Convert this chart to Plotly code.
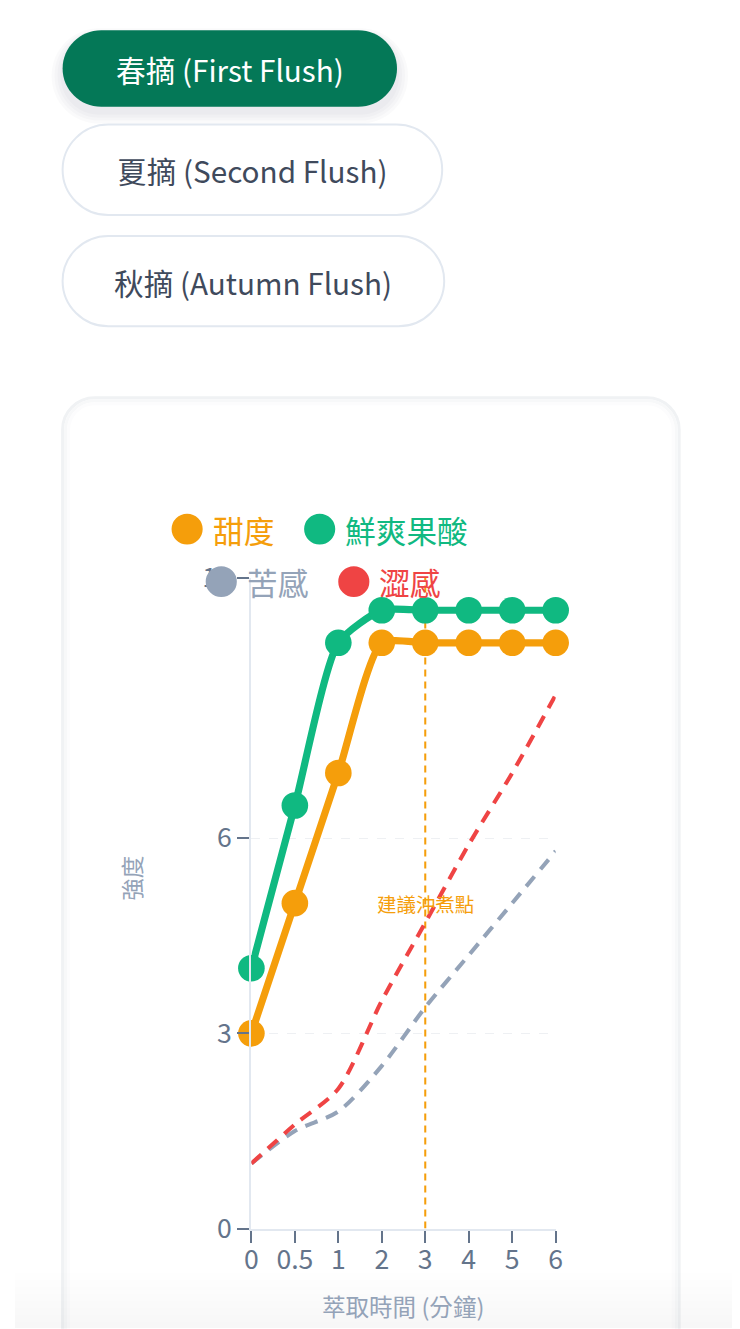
import plotly.graph_objects as go

# the page photo comes out slightly scaled and shifted; positions below are in photo pixels
S, AX, AY = 0.977, 15.6, 22.8
FW, FH = 741, 1337
FONT = "Noto Sans CJK TC"

# data
minutes = ["0", "0.5", "1", "2", "3", "4", "5", "6"]
sweetness = [3.0, 5.0, 7.0, 9.0, 9.0, 9.0, 9.0, 9.0]
acidity = [4.0, 6.5, 9.0, 9.5, 9.5, 9.5, 9.5, 9.5]
bitterness = [1.0, 1.5, 1.8, 2.5, 3.4, 4.2, 5.0, 5.8]
astringency = [1.0, 1.6, 2.15, 3.5, 4.7, 5.9, 7.0, 8.2]
y_ticks = [0, 3, 6, 10]
brew_point = "3"
brew_label = "建議沖煮點"
brew_label_y = 5
series_names = ["甜度", "鮮爽果酸", "苦感", "澀感"]
flush_buttons = ["春摘 (First Flush)", "夏摘 (Second Flush)", "秋摘 (Autumn Flush)"]

ORANGE, GREEN, GRAY, RED = "#f59e0b", "#10b981", "#94a3b8", "#ef4444"
brew_idx = minutes.index(brew_point)


def px(x):
    return (x - AX) / S / FW


def py(y):
    return 1 - (y - AY) / S / FH


def sz(v):
    return v / S


def rrect(x0, y0, x1, y1, r):
    k = 0.5523 * r
    pts = [
        f"M{px(x0 + r)},{py(y0)}", f"L{px(x1 - r)},{py(y0)}",
        f"C{px(x1 - r + k)},{py(y0)} {px(x1)},{py(y0 + r - k)} {px(x1)},{py(y0 + r)}",
        f"L{px(x1)},{py(y1 - r)}",
        f"C{px(x1)},{py(y1 - r + k)} {px(x1 - r + k)},{py(y1)} {px(x1 - r)},{py(y1)}",
        f"L{px(x0 + r)},{py(y1)}",
        f"C{px(x0 + r - k)},{py(y1)} {px(x0)},{py(y1 - r + k)} {px(x0)},{py(y1 - r)}",
        f"L{px(x0)},{py(y0 + r)}",
        f"C{px(x0)},{py(y0 + r - k)} {px(x0 + r - k)},{py(y0)} {px(x0 + r)},{py(y0)}", "Z",
    ]
    return " ".join(pts)


fig = go.Figure()

fig.add_trace(go.Scatter(x=minutes, y=sweetness, name=series_names[0], mode="lines+markers",
                         line=dict(color=ORANGE, width=sz(7), shape="spline", smoothing=0.6),
                         marker=dict(size=sz(26), color=ORANGE), cliponaxis=False))
fig.add_trace(go.Scatter(x=minutes, y=acidity, name=series_names[1], mode="lines+markers",
                         line=dict(color=GREEN, width=sz(7), shape="spline", smoothing=0.6),
                         marker=dict(size=sz(26), color=GREEN), cliponaxis=False))
fig.add_trace(go.Scatter(x=minutes, y=bitterness, name=series_names[2], mode="lines",
                         line=dict(color=GRAY, width=sz(4), dash="13px,9px", shape="spline", smoothing=0.8)))
fig.add_trace(go.Scatter(x=minutes, y=astringency, name=series_names[3], mode="lines",
                         line=dict(color=RED, width=sz(4), dash="13px,9px", shape="spline", smoothing=0.8)))

shapes = []
# card with soft edge
shapes.append(dict(type="path", path=rrect(63, 393, 677, 1400, 32), xref="paper", yref="paper",
                   fillcolor="white", line=dict(color="#f0f2f4", width=3), layer="below"))
shapes.append(dict(type="path", path=rrect(66, 396, 674, 1400, 29), xref="paper", yref="paper",
                   fillcolor="rgba(0,0,0,0)", line=dict(color="#f7f8f9", width=3), layer="below"))
shapes.append(dict(type="path", path=rrect(69, 399, 671, 1400, 26), xref="paper", yref="paper",
                   fillcolor="rgba(0,0,0,0)", line=dict(color="#fcfcfd", width=3), layer="below"))

# buttons
btn_boxes = [(63, 23, 396, 100), (63, 118, 441, 209), (63, 230, 443, 321)]
for i, (x0, y0, x1, y1) in enumerate(btn_boxes):
    r = (y1 - y0) / 2
    if i == 0:
        for s in range(4):
            shapes.append(dict(type="path", path=rrect(x0 - 2 - s * 3, y0 + 4 - s * 2, x1 + 2 + s * 3, y1 + 8 + s * 3, r + s * 3),
                               xref="paper", yref="paper", fillcolor="rgba(15,23,42,0.018)",
                               line=dict(width=0), layer="below"))
        shapes.append(dict(type="path", path=rrect(x0, y0, x1, y1, r), xref="paper", yref="paper",
                           fillcolor="#047857", line=dict(width=0), layer="below"))
    else:
        shapes.append(dict(type="path", path=rrect(x0, y0, x1, y1, r), xref="paper", yref="paper",
                           fillcolor="white", line=dict(color="#e2e8f0", width=2), layer="below"))

# brew point guide line
shapes.append(dict(type="line", xref="x", yref="y", x0=brew_idx, x1=brew_idx, y0=0, y1=max(y_ticks),
                   line=dict(color=ORANGE, width=sz(2), dash="7px,5px"), layer="below"))

# legend circles
legend_pos = [(187, 525, ORANGE), (319, 525, GREEN), (221, 578, GRAY), (353, 578, RED)]
for cx, cy, c in legend_pos:
    shapes.append(dict(type="circle", xref="paper", yref="paper", x0=px(cx - 15.5), x1=px(cx + 15.5),
                       y0=py(cy + 15.5), y1=py(cy - 15.5), fillcolor=c, line=dict(width=0), layer="above"))

# bottom fade
for j in range(8):
    shapes.append(dict(type="rect", xref="paper", yref="paper", x0=0, x1=1, y0=0, y1=py(1274 + j * 7),
                       fillcolor="rgba(210,216,226,0.03)", line=dict(width=0), layer="above"))

annotations = []
btn_colors = ["white", "#3f4a5c", "#3f4a5c"]
for (x0, y0, x1, y1), label, col in zip(btn_boxes, flush_buttons, btn_colors):
    annotations.append(dict(text=label, x=px((x0 + x1) / 2), y=py((y0 + y1) / 2 + 1), xref="paper", yref="paper",
                            showarrow=False, xanchor="center", yanchor="middle",
                            font=dict(family=FONT, size=sz(29), color=col)))

legend_text = [(211, 525), (342, 525), (245, 578), (376, 578)]
for (tx, ty), name, (_, _, c) in zip(legend_text, series_names, legend_pos):
    annotations.append(dict(text=name, x=px(tx), y=py(ty), xref="paper", yref="paper", showarrow=False,
                            xanchor="left", yanchor="middle", font=dict(family=FONT, size=sz(30), color=c)))

annotations.append(dict(text=brew_label, x=brew_idx, y=brew_label_y, xref="x", yref="y", showarrow=False,
                        font=dict(family=FONT, size=sz(19), color=ORANGE)))
annotations.append(dict(text="強度", x=px(131), y=py(876), xref="paper", yref="paper", showarrow=False,
                        xanchor="center", yanchor="middle", textangle=-90,
                        font=dict(family=FONT, size=sz(22), color=GRAY)))
annotations.append(dict(text="萃取時間 (分鐘)", x=px(402), y=py(1307), xref="paper", yref="paper", showarrow=False,
                        xanchor="center", yanchor="middle", font=dict(family=FONT, size=sz(23), color=GRAY)))

axis_style = dict(zeroline=False, showline=True, linecolor="#e2e8f0", linewidth=sz(2),
                  ticks="outside", ticklen=sz(12), tickwidth=sz(2), tickcolor="#64748b",
                  tickfont=dict(size=sz(26), color="#64748b", family=FONT))

fig.update_layout(
    width=FW, height=FH,
    margin=dict(l=0, r=0, t=0, b=0),
    paper_bgcolor="white", plot_bgcolor="rgba(0,0,0,0)",
    showlegend=False,
    font=dict(family=FONT, color="#64748b"),
    shapes=shapes, annotations=annotations,
    xaxis=dict(type="category", domain=[px(251), px(554)], range=[0, len(minutes) - 1],
               showgrid=False, ticklabelstandoff=-6, **axis_style),
    yaxis=dict(domain=[py(1229), py(574)], range=[0, max(y_ticks)], tickvals=y_ticks,
               showgrid=True, gridcolor="#eef0f3", griddash="dash", gridwidth=1, **axis_style),
)

fig.write_html("out.html")
